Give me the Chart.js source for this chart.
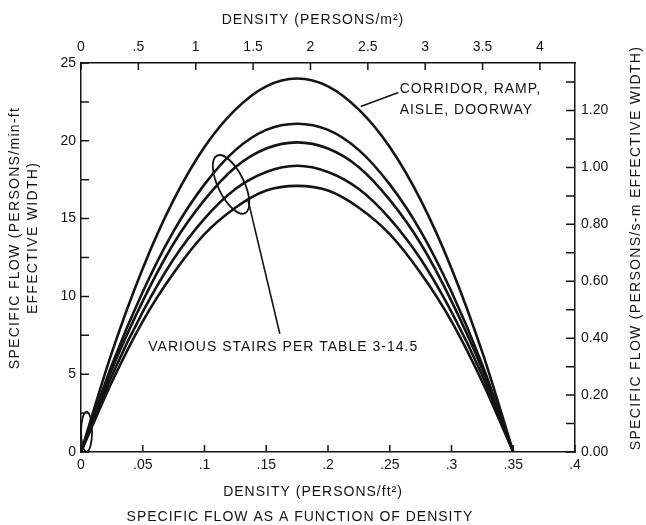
<!DOCTYPE html>
<html>
<head>
    <script src="https://cdn.jsdelivr.net/npm/chart.js@4.4.1/dist/chart.umd.min.js"></script>
    <style>
        body {
            margin: 0;
            background: white;
        }
        .chart-container {
            width: 646px;
            height: 525px;
        }
    </style>
</head>
<body>
    <div class="chart-container">
        <canvas id="flowChart"></canvas>
    </div>

    <script>
        // density in persons/ft2, flow in persons/min-ft
        const density  = [0, 0.025, 0.05, 0.075, 0.1, 0.125, 0.15, 0.175, 0.2, 0.225, 0.25, 0.275, 0.3, 0.325, 0.35];
        const corridor = [0, 6.4, 11.8, 16.2, 19.6, 22.0, 23.5, 24.0, 23.5, 22.0, 19.6, 16.2, 11.8, 6.4, 0];
        const stairA   = [0, 5.6, 10.3, 14.2, 17.2, 19.4, 20.7, 21.1, 20.7, 19.4, 17.2, 14.2, 10.3, 5.6, 0];
        const stairB   = [0, 5.3, 9.7, 13.4, 16.2, 18.3, 19.5, 19.9, 19.5, 18.3, 16.2, 13.4, 9.7, 5.3, 0];
        const stairC   = [0, 4.9, 9.0, 12.4, 15.0, 16.9, 18.0, 18.4, 18.0, 16.9, 15.0, 12.4, 9.0, 4.9, 0];
        const stairD   = [0, 4.5, 8.4, 11.5, 14.0, 15.7, 16.8, 17.1, 16.8, 15.7, 14.0, 11.5, 8.4, 4.5, 0];

        const FT2_TO_M2 = 10.7639;           // persons/ft2 -> persons/m2
        const MINFT_TO_SM = 3.28084 / 60;    // persons/min-ft -> persons/s-m
        const xMax = 0.4;
        const yMax = 25;

        const ink = '#141414';
        const fontFamily = '"Liberation Sans", Arial, sans-serif';

        const toPoints = ys => density.map((d, i) => ({ x: d, y: ys[i] }));

        const makeSet = (label, ys) => ({
            label: label,
            data: toPoints(ys),
            borderColor: ink,
            borderWidth: 2.6,
            pointRadius: 0,
            fill: false,
            cubicInterpolationMode: 'monotone'
        });

        const trimZero = v => {
            const s = String(Number(v.toFixed(2)));
            return s.startsWith('0.') ? s.slice(1) : s;
        };

        // inward tick marks, ellipses, leaders and all captions
        const decorations = {
            id: 'decorations',
            afterDraw(chart) {
                const ctx = chart.ctx;
                const { x, x2, y, y2 } = chart.scales;
                const area = chart.chartArea;
                ctx.save();
                ctx.strokeStyle = ink;
                ctx.fillStyle = ink;
                ctx.lineWidth = 1.5;

                ctx.beginPath();
                x.ticks.forEach(t => {
                    const px = x.getPixelForValue(t.value);
                    ctx.moveTo(px, area.bottom); ctx.lineTo(px, area.bottom - 7);
                });
                x2.ticks.forEach(t => {
                    const px = x2.getPixelForValue(t.value);
                    ctx.moveTo(px, area.top); ctx.lineTo(px, area.top + 7);
                });
                y.ticks.forEach(t => {
                    const py = y.getPixelForValue(t.value);
                    ctx.moveTo(area.left, py); ctx.lineTo(area.left + 8, py);
                });
                y2.ticks.forEach(t => {
                    const py = y2.getPixelForValue(t.value);
                    ctx.moveTo(area.right, py); ctx.lineTo(area.right - 9, py);
                });
                ctx.stroke();

                // ellipse around the stair curves
                ctx.lineWidth = 1.8;
                ctx.beginPath();
                ctx.ellipse(x.getPixelForValue(0.1215), y.getPixelForValue(17.2), 32, 13, 64 * Math.PI / 180, 0, Math.PI * 2);
                ctx.stroke();

                // small ellipse at origin
                ctx.beginPath();
                ctx.ellipse(x.getPixelForValue(0.0045), y.getPixelForValue(1.3), 5.5, 20, 0, 0, Math.PI * 2);
                ctx.stroke();

                // leader lines
                ctx.lineWidth = 1.6;
                ctx.beginPath();
                ctx.moveTo(x.getPixelForValue(0.2265), y.getPixelForValue(22.2));
                ctx.lineTo(x.getPixelForValue(0.257), y.getPixelForValue(23.1));
                ctx.moveTo(x.getPixelForValue(0.1352), y.getPixelForValue(16.2));
                ctx.lineTo(x.getPixelForValue(0.161), y.getPixelForValue(7.6));
                ctx.stroke();

                // annotation texts
                ctx.font = '14px ' + fontFamily;
                ctx.letterSpacing = '1px';
                ctx.textBaseline = 'middle';
                ctx.textAlign = 'left';
                ctx.fillText('CORRIDOR, RAMP,', x.getPixelForValue(0.258), y.getPixelForValue(23.35));
                ctx.fillText('AISLE, DOORWAY', x.getPixelForValue(0.258), y.getPixelForValue(22.0));
                ctx.fillText('VARIOUS STAIRS PER TABLE 3-14.5', x.getPixelForValue(0.0545), y.getPixelForValue(6.75));

                // axis titles
                ctx.textAlign = 'center';
                ctx.fillText('DENSITY (PERSONS/m\u00B2)', 313, 20);
                ctx.fillText('DENSITY (PERSONS/ft\u00B2)', 313, 492);
                ctx.fillText('SPECIFIC FLOW AS A FUNCTION OF DENSITY', 300, 517);

                ctx.save();
                ctx.translate(15, 238);
                ctx.rotate(-Math.PI / 2);
                ctx.letterSpacing = '1.3px';
                ctx.fillText('SPECIFIC FLOW (PERSONS/min-ft', 0, 0);
                ctx.fillText('EFFECTIVE WIDTH)', 0, 18);
                ctx.restore();

                ctx.save();
                ctx.translate(636, 248);
                ctx.rotate(-Math.PI / 2);
                ctx.letterSpacing = '1.3px';
                ctx.fillText('SPECIFIC FLOW (PERSONS/s-m EFFECTIVE WIDTH)', 0, 0);
                ctx.restore();

                ctx.restore();
            }
        };

        const tickFont = { family: fontFamily, size: 14 };
        const border = { display: true, color: ink, width: 1.5 };
        const noGrid = { display: false, drawTicks: false, tickLength: 0 };

        const config = {
            type: 'line',
            data: {
                datasets: [
                    makeSet('Corridor, ramp, aisle, doorway', corridor),
                    makeSet('Stair A', stairA),
                    makeSet('Stair B', stairB),
                    makeSet('Stair C', stairC),
                    makeSet('Stair D', stairD)
                ]
            },
            options: {
                responsive: false,
                animation: false,
                layout: { padding: 0 },
                scales: {
                    x: {
                        type: 'linear',
                        position: 'bottom',
                        min: 0,
                        max: xMax,
                        grid: noGrid,
                        border: border,
                        afterFit: s => { s.height = 73; },
                        ticks: {
                            stepSize: 0.05,
                            padding: 5,
                            color: ink,
                            font: tickFont,
                            maxRotation: 0,
                            callback: v => trimZero(v)
                        }
                    },
                    x2: {
                        type: 'linear',
                        position: 'top',
                        min: 0,
                        max: xMax * FT2_TO_M2,
                        grid: noGrid,
                        border: border,
                        afterFit: s => { s.height = 63; },
                        ticks: {
                            stepSize: 0.5,
                            includeBounds: false,
                            padding: 7,
                            color: ink,
                            font: tickFont,
                            maxRotation: 0,
                            callback: v => trimZero(v)
                        }
                    },
                    y: {
                        type: 'linear',
                        position: 'left',
                        min: 0,
                        max: yMax,
                        grid: noGrid,
                        border: border,
                        afterFit: s => { s.width = 81; },
                        ticks: {
                            stepSize: 2.5,
                            padding: 5,
                            color: ink,
                            font: tickFont,
                            callback: v => (v % 5 === 0 ? String(v) : '')
                        }
                    },
                    y2: {
                        type: 'linear',
                        position: 'right',
                        min: 0,
                        max: yMax * MINFT_TO_SM,
                        grid: noGrid,
                        border: border,
                        afterFit: s => { s.width = 71; },
                        ticks: {
                            stepSize: 0.1,
                            includeBounds: false,
                            padding: 6,
                            color: ink,
                            font: tickFont,
                            callback: v => (Math.round(v * 10) % 2 === 0 ? v.toFixed(2) : '')
                        }
                    }
                },
                plugins: {
                    legend: { display: false },
                    tooltip: { enabled: false },
                    title: { display: false }
                }
            },
            plugins: [decorations]
        };

        const canvas = document.getElementById('flowChart');
        canvas.width = 646;
        canvas.height = 525;
        new Chart(canvas.getContext('2d'), config);
    </script>
</body>
</html>
